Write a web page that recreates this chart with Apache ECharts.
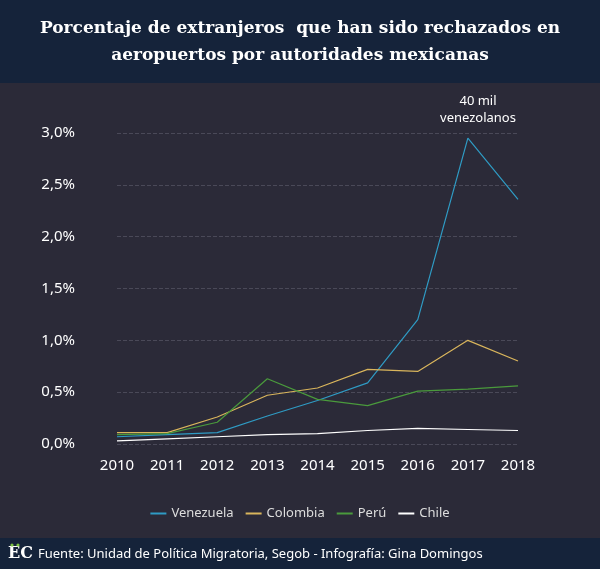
<!DOCTYPE html><html><head><meta charset="utf-8"><script src="https://cdn.jsdelivr.net/npm/echarts@6/dist/echarts.min.js"></script>
<style>body{margin:0;background:#2b2a38}#c{width:600px;height:569px}</style></head><body><div id="c"></div><script>
const years=['2010','2011','2012','2013','2014','2015','2016','2017','2018'];
const venezuela=[0.07,0.09,0.11,0.27,0.42,0.59,1.2,2.95,2.36];
const colombia=[0.11,0.11,0.26,0.47,0.54,0.72,0.70,1.0,0.80];
const peru=[0.09,0.10,0.21,0.63,0.43,0.37,0.51,0.53,0.56];
const chile=[0.03,0.05,0.07,0.09,0.10,0.13,0.15,0.14,0.13];
const c=echarts.init(document.getElementById('c'));
const s=(n,d,col)=>({name:n,type:'line',data:d,symbol:'none',lineStyle:{width:1.2,color:col},itemStyle:{color:col}});
c.setOption({backgroundColor:'#2b2a38',
graphic:[{type:'rect',shape:{x:0,y:0,width:600,height:83},style:{fill:'#15233a'}},
{type:'rect',shape:{x:0,y:538,width:600,height:31},style:{fill:'#15233a'}},
{type:'text',x:300,y:42,style:{text:'Porcentaje de extranjeros  que han sido rechazados en\naeropuertos por autoridades mexicanas',fill:'#fff',font:'bold 17px "DejaVu Serif"',align:'center',verticalAlign:'middle',lineHeight:27}},
{type:'text',x:8,y:554,style:{text:'EC',fill:'#fff',font:'bold 16px "DejaVu Serif"',verticalAlign:'middle'}},
{type:'circle',shape:{cx:12,cy:545,r:1.6},style:{fill:'#7ac142'}},{type:'circle',shape:{cx:18,cy:545,r:1.6},style:{fill:'#7ac142'}},
{type:'text',x:38,y:554,style:{text:'Fuente: Unidad de Política Migratoria, Segob - Infografía: Gina Domingos',fill:'#fff',font:'13px "Noto Sans"',verticalAlign:'middle'}},
{type:'text',x:478,y:110,style:{text:'40 mil\nvenezolanos',fill:'#fff',font:'13px "Noto Sans"',align:'center',verticalAlign:'middle',lineHeight:17}}],
legend:{bottom:44,itemWidth:16,itemHeight:2,icon:'rect',itemGap:12,textStyle:{color:'#ddd',fontSize:13,fontFamily:'Noto Sans'}},
grid:{left:117,right:82,top:133,bottom:125},
xAxis:{type:'category',data:years,boundaryGap:false,axisLine:{show:false},axisTick:{show:false},axisLabel:{color:'#fff',fontSize:15,margin:14,fontFamily:'Noto Sans'}},
yAxis:{type:'value',min:0,max:3,interval:0.5,axisLabel:{color:'#fff',fontSize:15,margin:42,fontFamily:'Noto Sans',formatter:v=>v.toFixed(1).replace('.',',')+'%'},splitLine:{lineStyle:{color:'#4a4958',type:'dashed'}}},
series:[s('Venezuela',venezuela,'#2f9bc4'),s('Colombia',colombia,'#d9b55c'),s('Perú',peru,'#4a9a3c'),s('Chile',chile,'#ffffff')]});
</script></body></html>
